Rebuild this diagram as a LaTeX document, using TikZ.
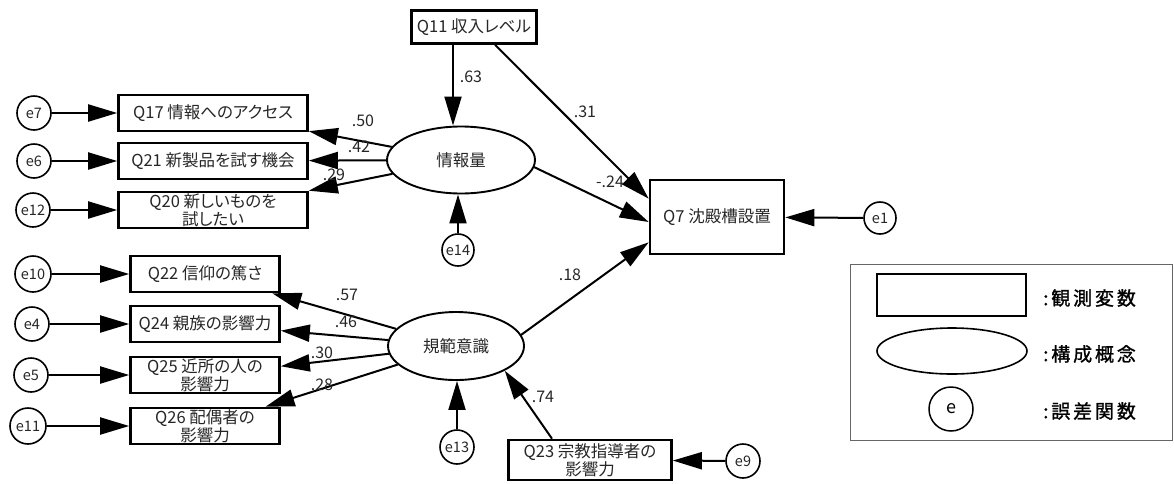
\documentclass[tikz,border=0pt]{standalone}
\usepackage{fontspec}
\setmainfont{Noto Sans CJK JP}[RawFeature=+palt]
\newfontfamily\legfont{Noto Sans CJK JP}[LetterSpace=15,FakeBold=1.2]
\usetikzlibrary{shapes.geometric,arrows.meta,calc}
\begin{document}
\begin{tikzpicture}[x=1pt,y=-1pt,
  obs/.style={draw, line width=2.6pt, minimum width=189pt, minimum height=36pt, inner sep=0pt, align=center, text=black!85, font=\fontsize{16.5}{16.5}\selectfont},
  obsS/.style={obs, minimum width=149pt},
  lat/.style={draw, ellipse, line width=1.9pt, inner sep=0pt, text=black!85, font=\fontsize{16.5}{17}\selectfont},
  err/.style={draw, circle, line width=1.6pt, minimum size=34pt, inner sep=0pt, text=black!85, font=\fontsize{14.5}{14.5}\selectfont},
  arr/.style={-{Triangle[length=29pt,width=17pt]}, line width=2pt},
  lab/.style={inner sep=0pt, text=black!85, font=\fontsize{16}{16}\selectfont},
  legtxt/.style={anchor=west, inner sep=0pt, font=\legfont\fontsize{19}{19}\selectfont}
]
\useasboundingbox (0,0) rectangle (1174,483);

% observed / latent / error nodes
\node[obs, minimum width=125pt, minimum height=33pt] (q11) at (474,27) {Q11 収入レベル};
\node[lat, minimum width=148pt, minimum height=67pt] (inf) at (461,160) {情報量};
\node[err, minimum size=32pt] (e14) at (458,250) {e14};
\node[obs, minimum width=134pt, minimum height=74pt] (q7) at (717,217) {Q7 沈殿槽設置};
\node[err, minimum size=32pt] (e1) at (880,218) {e1};

\node[obs] (q17) at (213,113) {Q17 情報へのアクセス};
\node[obs] (q21) at (213,161) {Q21 新製品を試す機会};
\node[obs] (q20) at (213,210) {Q20 新しいものを\\試したい};
\node[err] (e7) at (34,113) {e7};
\node[err] (e6) at (34,161) {e6};
\node[err] (e12) at (33,210) {e12};

\node[obsS] (q22) at (205,274) {Q22 信仰の篤さ};
\node[obsS] (q24) at (205,324) {Q24 親族の影響力};
\node[obsS] (q25) at (205,375) {Q25 近所の人の\\影響力};
\node[obsS] (q26) at (205,426) {Q26 配偶者の\\影響力};
\node[err, minimum size=36pt] (e10) at (33,274) {e10};
\node[err] (e4) at (32,324) {e4};
\node[err] (e5) at (31,375) {e5};
\node[err, minimum size=36pt] (e11) at (28,426) {e11};

\node[lat, minimum width=136pt, minimum height=68pt] (nrm) at (456,346) {規範意識};
\node[err] (e13) at (457,447) {e13};
\node[obs, minimum width=163pt, minimum height=40pt] (q23) at (590,460) {Q23 宗教指導者の\\影響力};
\node[err] (e9) at (743,461) {e9};

\coordinate (inftop) at ($(inf.north)+(-8,0)$);

% connectors
\draw[arr] (e7) -- (q17);
\draw[arr] (e6) -- (q21);
\draw[arr] (e12) -- (q20);
\draw[arr] (inf) -- (q17);
\draw[arr] (inf) -- (q21);
\draw[arr] (inf) -- (q20);
\draw[arr] (q11.south -| inftop) -- (inftop);
\draw[arr] ($(q11.south)+(21,0)$) -- ($(q7.north west)+(0,20)$);
\draw[arr] ($(inf.east)+(-2,7)$) -- ($(q7.west)+(0,5)$);
\draw[arr] (e14.north) -- (e14.north |- inf.south);
\draw[arr] (e1) -- (q7);

\draw[arr] (e10) -- (q22);
\draw[arr] (e4) -- (q24);
\draw[arr] (e5) -- (q25);
\draw[arr] (e11) -- (q26);
\draw[arr] (nrm) -- (q22);
\draw[arr] (nrm) -- (q24);
\draw[arr] (nrm) -- (q25);
\draw[arr] (nrm) -- (q26);
\draw[arr] ($(nrm.east)+(-4,-11)$) -- ($(q7.south west)+(0,-13)$);
\draw[arr] (e13.north) -- (e13.north |- nrm.south);
\draw[arr] ($(q23.north)+(-38,0)$) -- (nrm.south east);
\draw[arr] (e9) -- (q23);

% coefficients
\node[lab] (c63) at (471,77) {.63};
\node[lab] (c31) at (585,112) {.31};
\node[lab] (c24) at (610,182) {-.24};
\node[lab] (c50) at (363,121) {.50};
\node[lab] (c42) at (359,147) {.42};
\node[lab] (c29) at (334,175) {.29};
\node[lab] (c57) at (347,295) {.57};
\node[lab] (c46) at (346,322) {.46};
\node[lab] (c30) at (322,353) {.30};
\node[lab] (c28) at (322,385) {.28};
\node[lab] (c18) at (570,275) {.18};
\node[lab] (c74) at (543,397) {.74};

% legend
\node[draw=black!60, line width=0.8pt, minimum width=322pt, minimum height=176pt, inner sep=0pt] (leg) at (1011,352) {};
\node[draw, line width=2pt, minimum width=149pt, minimum height=42pt, inner sep=0pt] (lrect) at (951.5,295) {};
\node[draw, ellipse, line width=1.6pt, minimum width=150pt, minimum height=46pt, inner sep=0pt] (lell) at (952,351) {};
\node[draw, circle, line width=1.5pt, minimum size=44pt, inner sep=0pt, font=\fontsize{18}{18}\selectfont] (lcir) at (951,409) {e};
\node[legtxt] (t1) at (1043,298) {:観測変数};
\node[legtxt] (t2) at (1043,354) {:構成概念};
\node[legtxt] (t3) at (1043,411) {:誤差関数};
\end{tikzpicture}
\end{document}
